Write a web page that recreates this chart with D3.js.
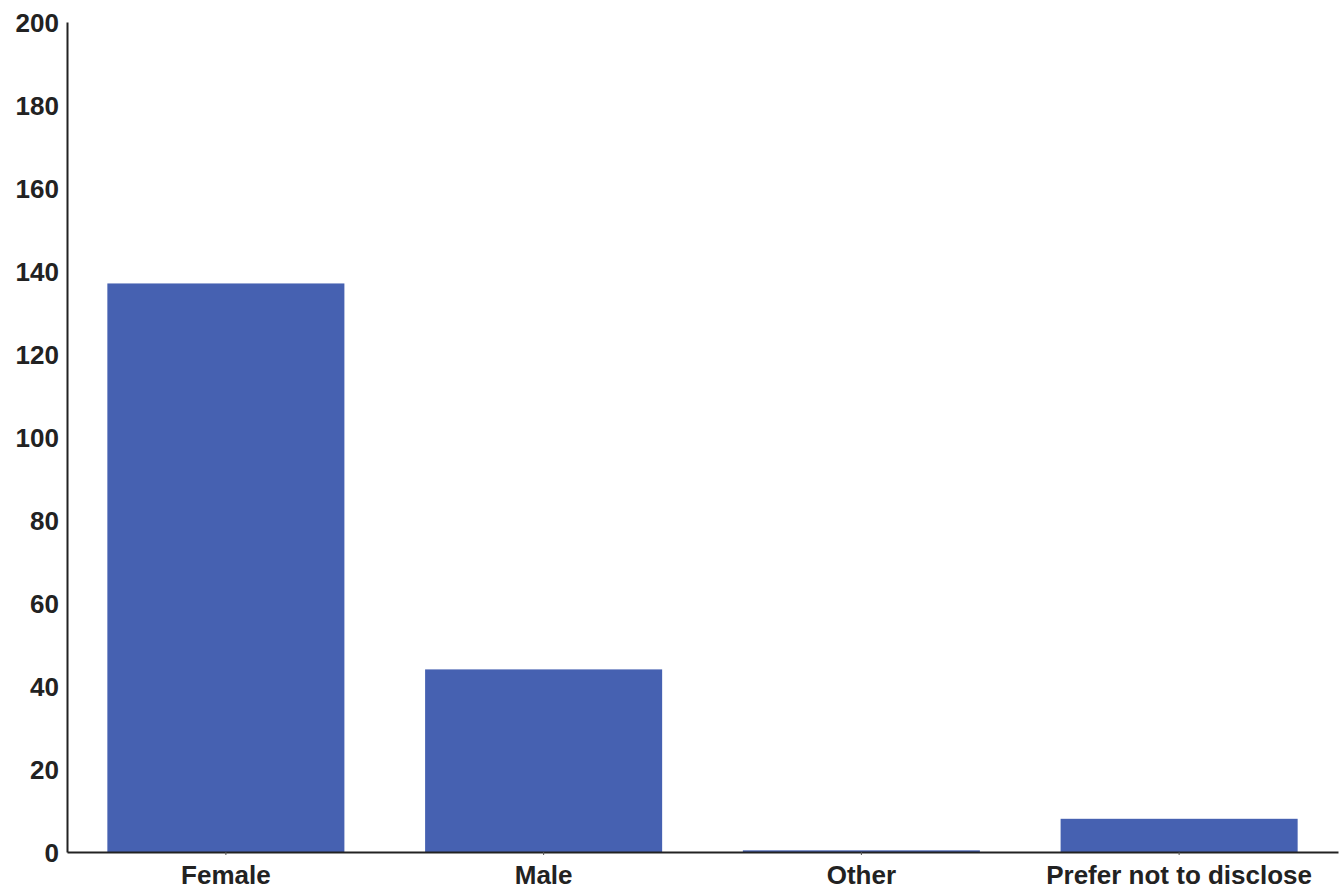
<!DOCTYPE html>
<html>
<head>
<meta charset="utf-8">
<title>Gender</title>
<script src="https://cdn.jsdelivr.net/npm/d3@7"></script>
<style>
  body { margin: 0; background: #fff; }
  text { font-family: "Liberation Sans", Arial, sans-serif; }
</style>
</head>
<body>
<svg width="1344" height="895"></svg>
<script>
// data
var categories = ["Female", "Male", "Other", "Prefer not to disclose"];
var counts = [137, 44, 0.4, 8];
var yTicks = [0, 20, 40, 60, 80, 100, 120, 140, 160, 180, 200];

var svg = d3.select("svg");
var margin = {top: 22, right: 6, bottom: 43, left: 67};
var width = 1344 - margin.left - margin.right;
var height = 895 - margin.top - margin.bottom;

var g = svg.append("g")
  .attr("transform", "translate(" + margin.left + "," + margin.top + ")");

var x = d3.scaleBand()
  .domain(categories)
  .range([0, width])
  .paddingInner(0.254)
  .paddingOuter(0.127);

var y = d3.scaleLinear()
  .domain([0, 200])
  .range([height, 0]);

// bars
g.selectAll(".bar")
  .data(categories)
  .enter()
  .append("rect")
  .attr("class", "bar")
  .attr("x", function(d){ return x(d); })
  .attr("width", x.bandwidth())
  .attr("y", function(d, i){ return y(counts[i]); })
  .attr("height", function(d, i){ return height - y(counts[i]); })
  .attr("fill", "#4661b1");

// y axis
var yAxis = g.append("g")
  .call(d3.axisLeft(y).tickValues(yTicks).tickSize(0).tickPadding(8));
yAxis.select(".domain").attr("stroke", "#222").attr("stroke-width", 2);
yAxis.selectAll("text")
  .attr("font-size", 26)
  .attr("font-weight", "bold")
  .attr("fill", "#222")
  .attr("dy", "0.36em");

// x axis
var xAxis = g.append("g")
  .attr("transform", "translate(0," + height + ")")
  .call(d3.axisBottom(x).tickSize(3).tickSizeOuter(0).tickPadding(11));
xAxis.select(".domain").attr("stroke", "#222").attr("stroke-width", 2);
xAxis.selectAll(".tick line").attr("stroke", "#555");
xAxis.selectAll("text")
  .attr("font-size", 26)
  .attr("font-weight", "bold")
  .attr("fill", "#222");
</script>
</body>
</html>
